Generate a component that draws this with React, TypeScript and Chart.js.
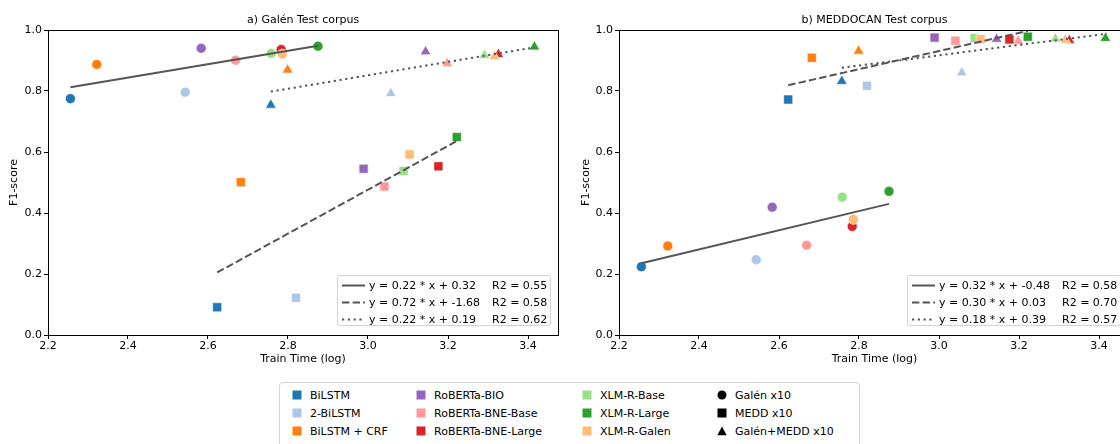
import React, { useEffect, useRef } from 'react';
import { Chart, registerables } from 'chart.js';

Chart.register(...registerables);

// ---- data ----
const models = ['BiLSTM', '2-BiLSTM', 'BiLSTM + CRF', 'RoBERTa-BIO', 'RoBERTa-BNE-Base', 'RoBERTa-BNE-Large', 'XLM-R-Base', 'XLM-R-Large', 'XLM-R-Galen'];
const modelColors = ['#1f77b4', '#aec7e8', '#ff7f0e', '#9467bd', '#ff9896', '#d62728', '#98df8a', '#2ca02c', '#ffbb78'];
const corpusLabels = ['Galén x10', 'MEDD x10', 'Galén+MEDD x10'];

// train time (log) for each model, per training corpus
const galenTime = [2.256, 2.543, 2.322, 2.583, 2.669, 2.783, 2.758, 2.875, 2.786];
const meddTime = [2.623, 2.820, 2.682, 2.989, 3.041, 3.176, 3.089, 3.222, 3.104];
const bothTime = [2.757, 3.057, 2.799, 3.144, 3.198, 3.326, 3.291, 3.416, 3.316];

// a) Galén Test corpus F1-score
const galenF1A = [0.775, 0.796, 0.887, 0.940, 0.901, 0.936, 0.923, 0.947, 0.921];
const meddF1A = [0.091, 0.122, 0.501, 0.545, 0.487, 0.553, 0.538, 0.649, 0.592];
const bothF1A = [0.754, 0.792, 0.869, 0.929, 0.890, 0.920, 0.917, 0.945, 0.913];

// b) MEDDOCAN Test corpus F1-score
const galenF1B = [0.224, 0.247, 0.292, 0.419, 0.294, 0.356, 0.452, 0.471, 0.379];
const meddF1B = [0.772, 0.817, 0.909, 0.975, 0.965, 0.969, 0.974, 0.978, 0.970];
const bothF1B = [0.832, 0.860, 0.931, 0.970, 0.964, 0.966, 0.971, 0.973, 0.967];

// regression line end points (x, y)
const fitXA = [[2.256, 2.875], [2.623, 3.222], [2.757, 3.416]];
const fitYA = [[0.812, 0.948], [0.205, 0.636], [0.798, 0.943]];
const fitXB = [[2.256, 2.875], [2.623, 3.222], [2.757, 3.420]];
const fitYB = [[0.235, 0.430], [0.819, 0.997], [0.876, 0.988]];

const fitLabelsA = ['y = 0.22 * x + 0.32', 'y = 0.72 * x + -1.68', 'y = 0.22 * x + 0.19'];
const fitR2A = ['R2 = 0.55', 'R2 = 0.58', 'R2 = 0.62'];
const fitLabelsB = ['y = 0.32 * x + -0.48', 'y = 0.30 * x + 0.03', 'y = 0.18 * x + 0.39'];
const fitR2B = ['R2 = 0.58', 'R2 = 0.70', 'R2 = 0.57'];

const xTicks = [2.2, 2.4, 2.6, 2.8, 3.0, 3.2, 3.4];
const yTicks = [0.0, 0.2, 0.4, 0.6, 0.8, 1.0];

// ---- styles ----
const FONT = "'DejaVu Sans', 'Liberation Sans', sans-serif";
const LINE_COLOR = '#555555';
const DASHES = [[], [7.4, 3.2], [2.2, 3.6]];
const SVG_DASHES = ['none', '7.4 3.2', '2.2 3.6'];
const SHAPES = ['circle', 'rect', 'triangle'];
const RADII = [5.0, 6.4, 6.2];

Chart.defaults.color = '#000';
Chart.defaults.font.family = FONT;
Chart.defaults.font.size = 11;

const framePlugin = {
  id: 'frame',
  afterDatasetsDraw(chart: any) {
    const { ctx, chartArea: a } = chart;
    const l = Math.round(a.left), t = Math.round(a.top), r = Math.round(a.right), b = Math.round(a.bottom);
    ctx.save();
    ctx.strokeStyle = '#000';
    ctx.lineWidth = 1;
    ctx.strokeRect(l + 0.5, t + 0.5, r - l, b - t);
    ctx.restore();
  },
};

function Panel(props: any) {
  const { title, f1, fitX, fitY, xMax, yWidth, yTitlePad, left, width } = props;
  const ref = useRef<HTMLCanvasElement>(null);
  useEffect(() => {
    const times = [galenTime, meddTime, bothTime];
    const datasets: any[] = [];
    fitX.forEach((xs: number[], i: number) => {
      datasets.push({
        type: 'line',
        data: xs.map((x, j) => ({ x, y: fitY[i][j] })),
        borderColor: LINE_COLOR,
        borderWidth: 2,
        borderDash: DASHES[i],
        borderCapStyle: 'butt',
        pointRadius: 0,
        fill: false,
        order: -1,
      });
    });
    times.forEach((t, k) => {
      datasets.push({
        type: 'scatter',
        label: corpusLabels[k],
        data: t.map((x, j) => ({ x, y: f1[k][j] })),
        pointStyle: SHAPES[k],
        pointRadius: RADII[k],
        pointBackgroundColor: modelColors,
        pointBorderColor: '#ffffff',
        pointBorderWidth: 0.6,
        order: 0,
      });
    });
    const axisGrid = { drawOnChartArea: false, drawTicks: true, tickLength: 4, color: '#000', lineWidth: 1 };
    const chart = new Chart(ref.current as HTMLCanvasElement, {
      type: 'scatter',
      data: { datasets },
      plugins: [framePlugin],
      options: {
        animation: false,
        responsive: false,
        devicePixelRatio: 1,
        events: [],
        layout: { padding: { left: 0, right: 12, top: 0, bottom: 0 } },
        plugins: {
          legend: { display: false },
          tooltip: { enabled: false },
          title: {
            display: true,
            text: title,
            fullSize: false,
            color: '#000',
            font: { family: FONT, size: 11, weight: 'normal', lineHeight: 1.2 },
            padding: { top: 14, bottom: 2.8 },
          },
        },
        scales: {
          x: {
            type: 'linear',
            min: 2.2,
            max: xMax,
            afterBuildTicks: (s: any) => { s.ticks = xTicks.map((v) => ({ value: v })); },
            afterFit: (s: any) => { s.height = 35; },
            grid: axisGrid,
            border: { display: true, color: '#000', width: 1 },
            ticks: { padding: 1, color: '#000', font: { family: FONT, size: 11 }, maxRotation: 0, callback: (v: any) => Number(v).toFixed(1) },
            title: { display: true, text: 'Train Time (log)', color: '#000', font: { family: FONT, size: 11, lineHeight: 1.2 }, padding: { top: 0, bottom: 4.4 } },
          },
          y: {
            type: 'linear',
            min: 0,
            max: 1,
            afterBuildTicks: (s: any) => { s.ticks = yTicks.map((v) => ({ value: v })); },
            afterFit: (s: any) => { s.width = yWidth; },
            grid: axisGrid,
            border: { display: true, color: '#000', width: 1 },
            ticks: { padding: 2, color: '#000', font: { family: FONT, size: 11 }, callback: (v: any) => Number(v).toFixed(1) },
            title: { display: true, text: 'F1-score', color: '#000', font: { family: FONT, size: 11, lineHeight: 1.2 }, padding: { top: yTitlePad, bottom: 0 } },
          },
        },
      } as any,
    } as any);
    return () => chart.destroy();
  }, []);
  return (
    <canvas
      ref={ref}
      width={width}
      height={370}
      style={{ position: 'absolute', left, top: 0, width, height: 370 }}
    />
  );
}

function FitLegend(props: any) {
  const { left, labels, r2 } = props;
  return (
    <div
      style={{
        position: 'absolute', left, top: 275, width: 214, height: 51, boxSizing: 'border-box',
        border: '1px solid #d4d4d4', borderRadius: 3, background: 'rgba(255,255,255,0.8)',
      }}
    >
      {labels.map((lab: string, i: number) => (
        <div key={i} style={{ position: 'absolute', left: 0, top: 1 + i * 17, height: 17, width: '100%' }}>
          <svg width={24} height={17} style={{ position: 'absolute', left: 4, top: 0 }}>
            <line x1={0} y1={8.5} x2={23} y2={8.5} stroke={LINE_COLOR} strokeWidth={2}
              strokeDasharray={SVG_DASHES[i]} />
          </svg>
          <span style={{ position: 'absolute', left: 31, top: 0, lineHeight: '17px', whiteSpace: 'nowrap' }}>{lab}</span>
          <span style={{ position: 'absolute', left: 154, top: 0, lineHeight: '17px', whiteSpace: 'nowrap' }}>{r2[i]}</span>
        </div>
      ))}
    </div>
  );
}

function Marker(props: any) {
  const { shape, color } = props;
  return (
    <svg width={10} height={10} style={{ position: 'absolute', left: -5, top: 3.5 }}>
      {shape === 'circle' && <circle cx={5} cy={5} r={4.5} fill={color} />}
      {shape === 'rect' && <rect x={0.5} y={0.5} width={9} height={9} fill={color} />}
      {shape === 'triangle' && <polygon points="5,0.5 9.7,9.3 0.3,9.3" fill={color} />}
    </svg>
  );
}

function BottomLegend() {
  const colX = [31, 155, 321, 456];
  const rowY = [13, 31, 49];
  const items: any[] = [];
  models.forEach((m, i) => {
    items.push({ text: m, col: Math.floor(i / 3), row: i % 3, shape: 'rect', color: modelColors[i] });
  });
  corpusLabels.forEach((c, i) => {
    items.push({ text: c, col: 3, row: i, shape: SHAPES[i], color: '#000' });
  });
  return (
    <div
      style={{
        position: 'absolute', left: 279, top: 382, width: 581, height: 80, boxSizing: 'border-box',
        border: '1px solid #d4d4d4', borderRadius: 4, background: '#fff',
      }}
    >
      {items.map((it, k) => (
        <div key={k} style={{ position: 'absolute', left: colX[it.col] - 1, top: rowY[it.row] - 9.5, height: 17 }}>
          <div style={{ position: 'absolute', left: -13.5, top: 0, width: 0, height: 17 }}>
            <Marker shape={it.shape} color={it.color} />
          </div>
          <span style={{ position: 'absolute', left: 0, top: 0, lineHeight: '17px', whiteSpace: 'nowrap' }}>{it.text}</span>
        </div>
      ))}
    </div>
  );
}

export default function App() {
  return (
    <div
      style={{
        position: 'fixed', left: 0, top: 0, width: 1120, height: 444, overflow: 'hidden',
        background: '#fff', fontFamily: FONT, fontSize: 11, color: '#000',
      }}
    >
      <Panel title="a) Galén Test corpus" f1={[galenF1A, meddF1A, bothF1A]} fitX={fitXA} fitY={fitYA}
        xMax={3.475} yWidth={48} yTitlePad={7.7} left={0} width={570} />
      <Panel title="b) MEDDOCAN Test corpus" f1={[galenF1B, meddF1B, bothF1B]} fitX={fitXB} fitY={fitYB}
        xMax={3.4775} yWidth={49} yTitlePad={9.4} left={570} width={572} />
      <FitLegend left={337} labels={fitLabelsA} r2={fitR2A} />
      <FitLegend left={907} labels={fitLabelsB} r2={fitR2B} />
      <BottomLegend />
    </div>
  );
}
